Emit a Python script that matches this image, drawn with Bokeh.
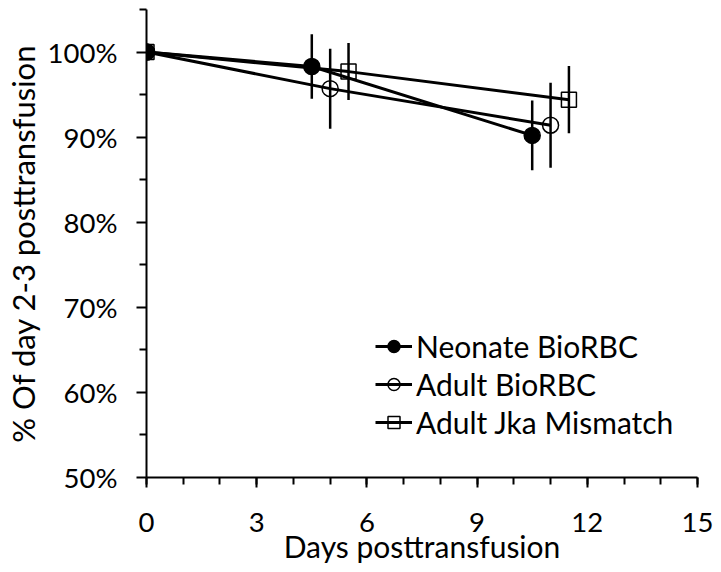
from bokeh.plotting import figure
from bokeh.models import FixedTicker, Legend, LegendItem
from bokeh.embed import file_html
from bokeh.resources import INLINE

# ---- data ----
series_names = ["Neonate BioRBC", "Adult BioRBC", "Adult Jka Mismatch"]
neo_days = [0, 4.5, 10.5]
neo_pct = [100, 98.3, 90.2]
neo_err = [0, 3.8, 4.1]
adult_days = [0, 5, 11]
adult_pct = [100, 95.7, 91.4]
adult_err = [0, 4.7, 5.0]
jka_days = [0, 5.5, 11.5]
jka_pct = [100, 97.7, 94.4]
jka_err = [0, 3.35, 3.95]
x_ticks = [0, 3, 6, 9, 12, 15]
x_minor = list(range(0, 16))
y_ticks = [50, 60, 70, 80, 90, 100]
y_tick_labels = ["50%", "60%", "70%", "80%", "90%", "100%"]
y_minor = [55, 65, 75, 85, 95, 105]

FONT = "Lato"

p = figure(frame_width=551, frame_height=468, x_range=(0, 15), y_range=(50, 105),
           output_backend="svg", toolbar_location=None)
p.min_border_left = 146
p.min_border_right = 16
p.min_border_top = 9
p.min_border_bottom = 86
p.outline_line_color = None
p.xgrid.visible = False
p.ygrid.visible = False
p.background_fill_color = "white"
p.border_fill_color = "white"

for ax in (p.xaxis[0], p.yaxis[0]):
    ax.axis_line_width = 2
    ax.axis_line_color = "black"
    ax.major_tick_line_width = 2
    ax.minor_tick_line_width = 2
    ax.major_tick_line_color = "black"
    ax.minor_tick_line_color = "black"
    ax.major_tick_in = 0
    ax.minor_tick_in = 0
    ax.major_tick_out = 10
    ax.minor_tick_out = 7
    ax.major_label_text_font = FONT
    ax.major_label_text_font_size = "27.5px"
    ax.major_label_text_color = "black"
    ax.axis_label_text_font = FONT
    ax.axis_label_text_font_style = "normal"
    ax.axis_label_text_color = "black"

p.xaxis[0].axis_label_text_font_size = "30px"
p.yaxis[0].axis_label_text_font_size = "31px"
p.xaxis[0].ticker = FixedTicker(ticks=x_ticks, minor_ticks=x_minor)
p.yaxis[0].ticker = FixedTicker(ticks=y_ticks, minor_ticks=y_minor)
p.yaxis[0].major_label_overrides = {t: l for t, l in zip(y_ticks, y_tick_labels)}
p.xaxis[0].axis_label = "Days posttransfusion"
p.yaxis[0].axis_label = "% Of day 2-3 posttransfusion"
p.xaxis[0].major_label_standoff = 25
p.xaxis[0].axis_label_standoff = -7
p.yaxis[0].major_label_standoff = 19
p.yaxis[0].axis_label_standoff = 3

items = []
styles = [
    (neo_days, neo_pct, neo_err, "circle", "black", 16),
    (adult_days, adult_pct, adult_err, "circle", None, 16),
    (jka_days, jka_pct, jka_err, "square", None, 15),
]
for name, (xs, ys, es, marker, fill, size) in zip(series_names, styles):
    lo = [y - e for y, e in zip(ys, es)]
    hi = [y + e for y, e in zip(ys, es)]
    ln = p.line(xs, ys, line_color="black", line_width=3)
    p.segment(x0=xs, y0=lo, x1=xs, y1=hi, line_color="black", line_width=2.5)
    sc = p.scatter(xs, ys, marker=marker, size=size, line_color="black",
                   line_width=1.5, fill_color=fill)
    items.append(LegendItem(label=name, renderers=[ln, sc]))

legend = Legend(items=items, location=(229, 37))
legend.label_text_font = FONT
legend.label_text_font_size = "30px"
legend.label_text_color = "black"
legend.glyph_width = 37
legend.glyph_height = 30
legend.label_height = 30
legend.label_standoff = 4
legend.spacing = 2
legend.padding = 0
legend.margin = 0
legend.border_line_color = None
legend.background_fill_alpha = 0
p.add_layout(legend, "center")

open("out.html", "w").write(file_html(p, INLINE))
